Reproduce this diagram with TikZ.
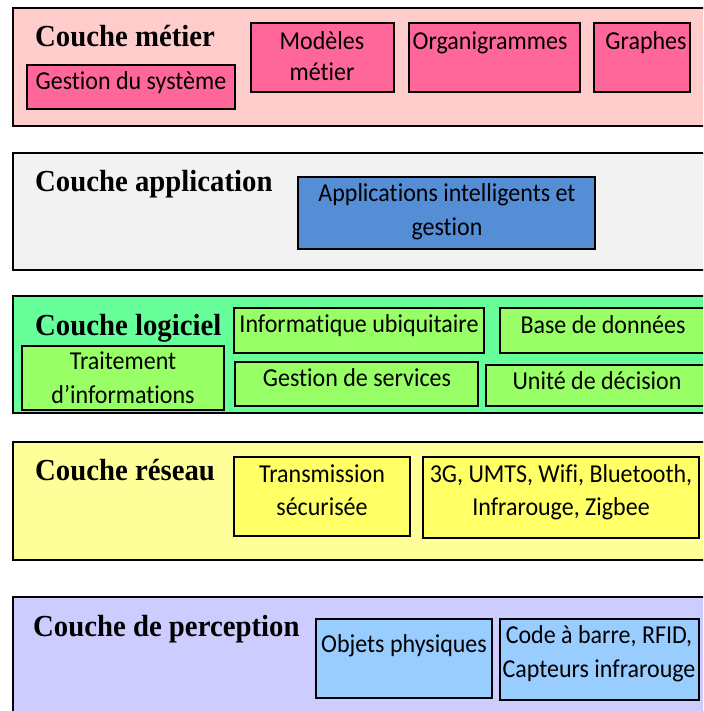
\documentclass[tikz,border=0pt]{standalone}
\usepackage{fontspec}
\setmainfont{Carlito}[Ligatures={NoCommon},FakeStretch=0.93]
\newfontfamily\headfont{Liberation Serif}[FakeStretch=0.94]
\definecolor{pinkL}{HTML}{FFCCCC}
\definecolor{pinkB}{HTML}{FF6699}
\definecolor{greyL}{HTML}{F2F2F2}
\definecolor{blueB}{HTML}{558ED5}
\definecolor{greenL}{HTML}{66FF99}
\definecolor{greenB}{HTML}{99FF66}
\definecolor{yellowL}{HTML}{FFFF99}
\definecolor{yellowB}{HTML}{FFFF66}
\definecolor{lavL}{HTML}{CCCCFF}
\definecolor{lavB}{HTML}{99CCFF}
\begin{document}
\begin{tikzpicture}[x=1pt,y=-1pt,
  layer/.style={draw=black,line width=2pt},
  inbox/.style={draw=black,line width=1.8pt},
  head/.style={anchor=base west,inner sep=0pt,font=\headfont\bfseries\fontsize{30.6}{33}\selectfont},
  txt/.style={anchor=base,inner sep=0pt,font=\fontsize{25.8}{33}\selectfont}]
\clip (0,0) rectangle (703,711);
\fill[white] (0,0) rectangle (703,711);
% ---------- Couche metier
\draw[layer,fill=pinkL] (13,8) rectangle (712,126);
\node[head] (h1) at (35,47) {Couche métier};
\draw[inbox,fill=pinkB] (27,65) rectangle (235,109);
\node[txt] (t1a) at (131,90) {Gestion du système};
\draw[inbox,fill=pinkB] (251,23) rectangle (394,92);
\node[txt] (t1b) at (322,50) {Modèles};
\node[txt] (t1c) at (322,81) {métier};
\draw[inbox,fill=pinkB] (409,23) rectangle (580,92);
\node[txt] (t1d) at (490,50) {Organigrammes};
\draw[inbox,fill=pinkB] (594,23) rectangle (690,92);
\node[txt] (t1e) at (646,50) {Graphes};
% ---------- Couche application
\draw[layer,fill=greyL] (13,153) rectangle (712,270);
\node[head] (h2) at (35,192) {Couche application};
\draw[inbox,fill=blueB] (298,177) rectangle (595,249);
\node[txt] (t2a) at (447,202) {Applications intelligents et};
\node[txt] (t2b) at (447,236) {gestion};
% ---------- Couche logiciel
\draw[layer,fill=greenL] (13,296) rectangle (712,413);
\node[head] (h3) at (35,335) {Couche logiciel};
\draw[inbox,fill=greenB] (234,308) rectangle (484,353);
\node[txt] (t3a) at (359,332) {Informatique ubiquitaire};
\draw[inbox,fill=greenB] (500,308) rectangle (712,353);
\node[txt] (t3b) at (603,333) {Base de données};
\draw[inbox,fill=greenB] (22,346) rectangle (224,410);
\node[txt] (t3c) at (123,369) {Traitement};
\node[txt] (t3d) at (123,403) {d’informations};
\draw[inbox,fill=greenB] (235,362) rectangle (478,406);
\node[txt] (t3e) at (357,386) {Gestion de services};
\draw[inbox,fill=greenB] (486,365) rectangle (712,406);
\node[txt] (t3f) at (597,389) {Unité de décision};
% ---------- Couche reseau
\draw[layer,fill=yellowL] (13,442) rectangle (712,560);
\node[head] (h4) at (35,480) {Couche réseau};
\draw[inbox,fill=yellowB] (234,457) rectangle (410,536);
\node[txt] (t4a) at (322,482) {Transmission};
\node[txt] (t4b) at (322,515) {sécurisée};
\draw[inbox,fill=yellowB] (423,457) rectangle (699,538);
\node[txt] (t4c) at (561,482) {3G, UMTS, Wifi, Bluetooth,};
\node[txt] (t4d) at (561,515) {Infrarouge, Zigbee};
% ---------- Couche de perception
\draw[layer,fill=lavL] (13,597) rectangle (712,725);
\node[head] (h5) at (33,636) {Couche de perception};
\draw[inbox,fill=lavB] (316,619) rectangle (492,698);
\node[txt] (t5a) at (404,652) {Objets physiques};
\draw[inbox,fill=lavB] (500,619) rectangle (699,700);
\node[txt] (t5b) at (599,643) {Code à barre, RFID,};
\node[txt] (t5c) at (599,677) {Capteurs infrarouge};
\end{tikzpicture}
\end{document}
